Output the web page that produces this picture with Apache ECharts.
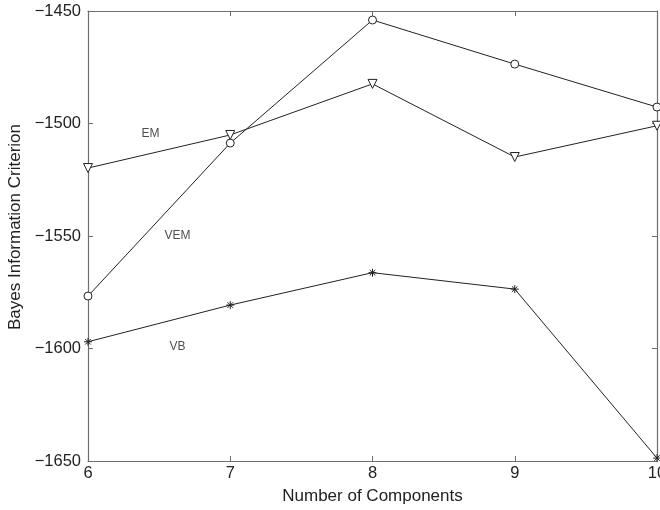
<!DOCTYPE html>
<html><head><meta charset="utf-8">
<script src="https://cdn.jsdelivr.net/npm/echarts@6/dist/echarts.min.js"></script>
<style>html,body{margin:0;padding:0;background:#fff}#c{width:660px;height:510px}</style>
</head><body><div id="c"></div>
<script>
const components = [6, 7, 8, 9, 10];
const vemValues = [-1576.7, -1508.7, -1454, -1473.6, -1492.7];
const emValues = [-1519.8, -1505.1, -1482.4, -1514.9, -1501];
const vbValues = [-1597, -1580.7, -1566.3, -1573.6, -1648.7];
const yTicks = [-1650, -1600, -1550, -1500, -1450];
const seriesLabels = [
  {name: 'EM', x: 6.44, y: -1504.7},
  {name: 'VEM', x: 6.63, y: -1550},
  {name: 'VB', x: 6.63, y: -1599}
];
const FONT = 'Liberation Sans, Arial, Helvetica, sans-serif';
const AX = '#6e6e6e';
const chart = echarts.init(document.getElementById('c'), null, {renderer: 'canvas'});
const minus = v => String(v).replace('-', '\u2212');
const pair = vals => components.map((c, i) => [c, vals[i]]);
const lineStyle = {color: '#222', width: 1};
const star = 'path://M0,5L10,5M5,0L5,10M1.5,1.5L8.5,8.5M1.5,8.5L8.5,1.5';
const baseX = {type: 'value', min: 6, max: 10, interval: 1,
  axisLine: {show: true, onZero: false, lineStyle: {color: AX, width: 1.2}},
  axisTick: {show: true, inside: true, length: 5, lineStyle: {color: AX}},
  splitLine: {show: false}};
const baseY = {type: 'value', min: -1650, max: -1450, interval: 50,
  axisLine: {show: true, onZero: false, lineStyle: {color: AX, width: 1.2}},
  axisTick: {show: true, inside: true, length: 5, lineStyle: {color: AX}},
  splitLine: {show: false}};
chart.setOption({
  animation: false,
  grid: {left: 88, right: 3, top: 11, bottom: 49, outerBoundsMode: 'none', containLabel: false},
  xAxis: [
    Object.assign({}, baseX, {position: 'bottom', name: 'Number of Components',
      nameLocation: 'middle', nameGap: 27,
      nameTextStyle: {fontFamily: FONT, fontSize: 17, color: '#222'},
      axisLabel: {fontFamily: FONT, fontSize: 16.5, color: '#222', margin: 4}}),
    Object.assign({}, baseX, {position: 'top', axisLabel: {show: false}})
  ],
  yAxis: [
    Object.assign({}, baseY, {position: 'left', name: 'Bayes Information Criterion',
      nameLocation: 'middle', nameGap: 61, nameRotate: 90,
      nameTextStyle: {fontFamily: FONT, fontSize: 17, color: '#222', padding: [0, 0, 0, 18]},
      axisLabel: {fontFamily: FONT, fontSize: 16.5, color: '#222', margin: 7, formatter: v => minus(v)}}),
    Object.assign({}, baseY, {position: 'right', axisLabel: {show: false}})
  ],
  series: [
    {type: 'line', name: 'VEM', data: pair(vemValues), symbol: 'circle', symbolSize: 8,
      lineStyle, itemStyle: {color: '#fff', borderColor: '#222', borderWidth: 1}, z: 3},
    {type: 'line', name: 'EM', data: pair(emValues), symbol: 'triangle', symbolRotate: 180, symbolSize: 9,
      lineStyle, itemStyle: {color: '#fff', borderColor: '#222', borderWidth: 1}, z: 3},
    {type: 'line', name: 'VB', data: pair(vbValues), symbol: star, symbolSize: 8,
      lineStyle, itemStyle: {color: 'none', borderColor: '#222', borderWidth: 1}, z: 3},
    {type: 'scatter', data: seriesLabels.map(l => ({value: [l.x, l.y], name: l.name})),
      symbolSize: 0, silent: true,
      label: {show: true, position: 'inside', formatter: p => p.name,
        fontFamily: FONT, fontSize: 12, color: '#222'}}
  ]
});
</script></body></html>
